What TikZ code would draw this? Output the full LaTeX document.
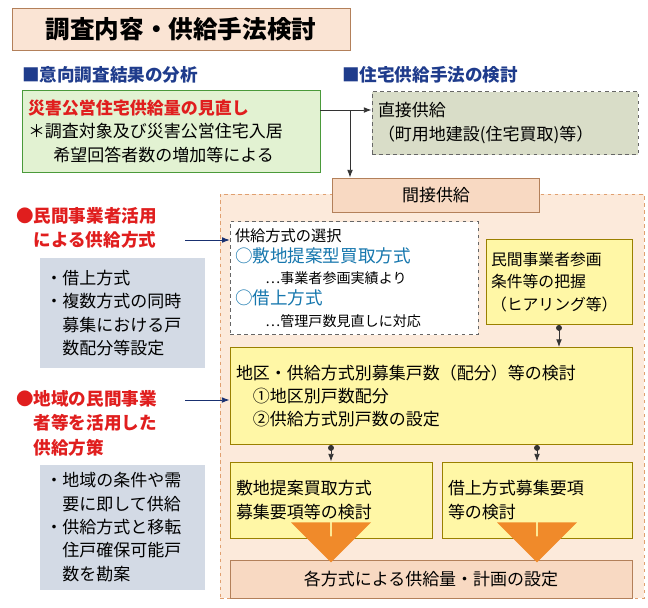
\documentclass[tikz,border=0pt]{standalone}
\usepackage{fontspec}
\setmainfont{Noto Sans CJK JP}
\usetikzlibrary{shapes.arrows, arrows.meta}
\definecolor{headblue}{HTML}{1F3C8C}
\definecolor{alertred}{HTML}{E01E1E}
\definecolor{leafgreen}{HTML}{E2F2D2}
\definecolor{leafline}{HTML}{4A9A3A}
\definecolor{sagegray}{HTML}{D9DDC8}
\definecolor{peachbg}{HTML}{FCEADB}
\definecolor{peachline}{HTML}{E0A070}
\definecolor{peachbox}{HTML}{F8D9C2}
\definecolor{slatebox}{HTML}{D3DAE5}
\definecolor{lemon}{HTML}{FFF7A6}
\definecolor{olive}{HTML}{9A8000}
\definecolor{flame}{HTML}{F08A2A}

\begin{document}
\begin{tikzpicture}[x=0.03cm, y=-0.03cm,
    txt/.style={font=\fontsize{14.5pt}{20pt}\selectfont},
    plainbox/.style={rectangle, draw, thick, align=left, inner sep=4pt, txt},
    lemonbox/.style={plainbox, draw=olive, fill=lemon},
    slatebox/.style={rectangle, fill=slatebox, align=left, inner sep=4pt, txt},
    heading/.style={text=headblue, font=\fontsize{15pt}{18pt}\selectfont\bfseries, anchor=west},
    redhead/.style={text=alertred, font=\fontsize{15pt}{21pt}\selectfont\bfseries, align=left, anchor=north west},
    arrow/.style={-Latex, thick, headblue!80!black},
    dotarrow/.style={{Circle[length=5pt]}-Latex, thick, black!80},
    blockarrow/.style={single arrow, shape border rotate=270, fill=flame, draw=none, minimum height=26*0.03cm, minimum width=80*0.03cm, single arrow head extend=12*0.03cm, inner sep=0pt}
]
\useasboundingbox (0,0) rectangle (648,607);

% Titel und Ueberschriften
\node[plainbox, draw=peachline!80!black, fill=peachbox!70, minimum width=338*0.03cm, minimum height=42*0.03cm, align=center, font=\fontsize{21pt}{24pt}\selectfont\bfseries] (title) at (181,29) {調査内容・供給手法検討};
\node[heading] (head1) at (18,75) {■意向調査結果の分析};
\node[heading] (head2) at (338,75) {■住宅供給手法の検討};

% oberer Bereich
\node[plainbox, draw=leafline, fill=leafgreen, minimum width=298*0.03cm, minimum height=82*0.03cm, text width=286*0.03cm] (review) at (171,131)
  {\textcolor{alertred}{\textbf{災害公営住宅供給量の見直し}}\\ ＊調査対象及び災害公営住宅入居\\ \hspace*{1.5em}希望回答者数の増加等による};
\node[plainbox, draw=black!60, dashed, fill=sagegray, minimum width=266*0.03cm, minimum height=63*0.03cm, text width=254*0.03cm] (direct) at (505,123)
  {直接供給\\ （町用地建設(住宅買取)等）};

% Bereich indirekte Versorgung
\node[rectangle, draw=peachline, dashed, fill=peachbg, minimum width=424*0.03cm, minimum height=404*0.03cm] (region) at (432,396) {};
\node[plainbox, draw=peachline!80!black, fill=peachbox, minimum width=207*0.03cm, minimum height=34*0.03cm, align=center] (indirect) at (436,195) {間接供給};

\coordinate (split) at (350,110);
\draw[thick, black!80] (review.east |- split) -- (split);
\draw[-Latex, thick, black!80] (split) -- (direct.west |- split);
\draw[-Latex, thick, black!80] (split) -- (indirect.north -| split);

% linke Spalte
\node[redhead] (private) at (12,203) {●民間事業者活用\\ \hspace*{1em}による供給方式};
\node[slatebox, minimum width=165*0.03cm, minimum height=110*0.03cm, text width=153*0.03cm] (detail1) at (122,313)
  {・借上方式\\ ・複数方式の同時\\ \hspace*{1em}募集における戸\\ \hspace*{1em}数配分等設定};
\node[redhead] (local) at (12,386) {●地域の民間事業\\ \hspace*{1em}者等を活用した\\ \hspace*{1em}供給方策};
\node[slatebox, minimum width=165*0.03cm, minimum height=125*0.03cm, text width=153*0.03cm] (detail2) at (122,527)
  {・地域の条件や需\\ \hspace*{1em}要に即して供給\\ ・供給方式と移転\\ \hspace*{1em}住戸確保可能戸\\ \hspace*{1em}数を勘案};

% Auswahl und Pruefschritte
\node[plainbox, draw=black!60, dashed, thin, fill=white, minimum width=248*0.03cm, minimum height=113*0.03cm, text width=238*0.03cm, font=\fontsize{13pt}{18pt}\selectfont] (choice) at (354,278)
  {供給方式の選択\\ \textcolor{headblue!70!cyan}{\fontsize{15pt}{18pt}\selectfont ○敷地提案型買取方式}\\ \hspace*{2em}{\fontsize{12pt}{16pt}\selectfont …事業者参画実績より}\\ \textcolor{headblue!70!cyan}{\fontsize{15pt}{18pt}\selectfont ○借上方式}\\ \hspace*{2em}{\fontsize{12pt}{16pt}\selectfont …管理戸数見直しに対応}};
\node[lemonbox, minimum width=146*0.03cm, minimum height=85*0.03cm, text width=136*0.03cm, font=\fontsize{13.5pt}{19pt}\selectfont] (hearing) at (559,282)
  {民間事業者参画\\ 条件等の把握\\ （ヒアリング等）};
\node[lemonbox, minimum width=402*0.03cm, minimum height=97*0.03cm, text width=390*0.03cm] (allocation) at (431,396)
  {地区・供給方式別募集戸数（配分）等の検討\\ \hspace*{1em}①地区別戸数配分\\ \hspace*{1em}②供給方式別戸数の設定};
\node[lemonbox, minimum width=202*0.03cm, minimum height=76*0.03cm, text width=190*0.03cm] (sitebuy) at (331,500)
  {敷地提案買取方式\\ 募集要項等の検討};
\node[lemonbox, minimum width=190*0.03cm, minimum height=76*0.03cm, text width=178*0.03cm] (lease) at (537,500)
  {借上方式募集要項\\ 等の検討};
\node[plainbox, draw=peachline!80!black, fill=peachbox, minimum width=402*0.03cm, minimum height=38*0.03cm, align=center] (result) at (431,579)
  {各方式による供給量・計画の設定};

% Verbindungen
\coordinate (mark1) at (185,240);
\coordinate (mark2) at (185,400);
\draw[arrow] (mark1) -- (choice.west |- mark1);
\draw[arrow] (mark2) -- (allocation.west |- mark2);
\draw[dotarrow] (hearing.south) -- (allocation.north -| hearing.south);
\draw[dotarrow] (allocation.south -| sitebuy.north) -- (sitebuy.north);
\draw[dotarrow] (allocation.south -| lease.north) -- (lease.north);
\node[blockarrow] (flow1) at (331,549) {};
\node[blockarrow] (flow2) at (537,549) {};

\end{tikzpicture}
\end{document}
